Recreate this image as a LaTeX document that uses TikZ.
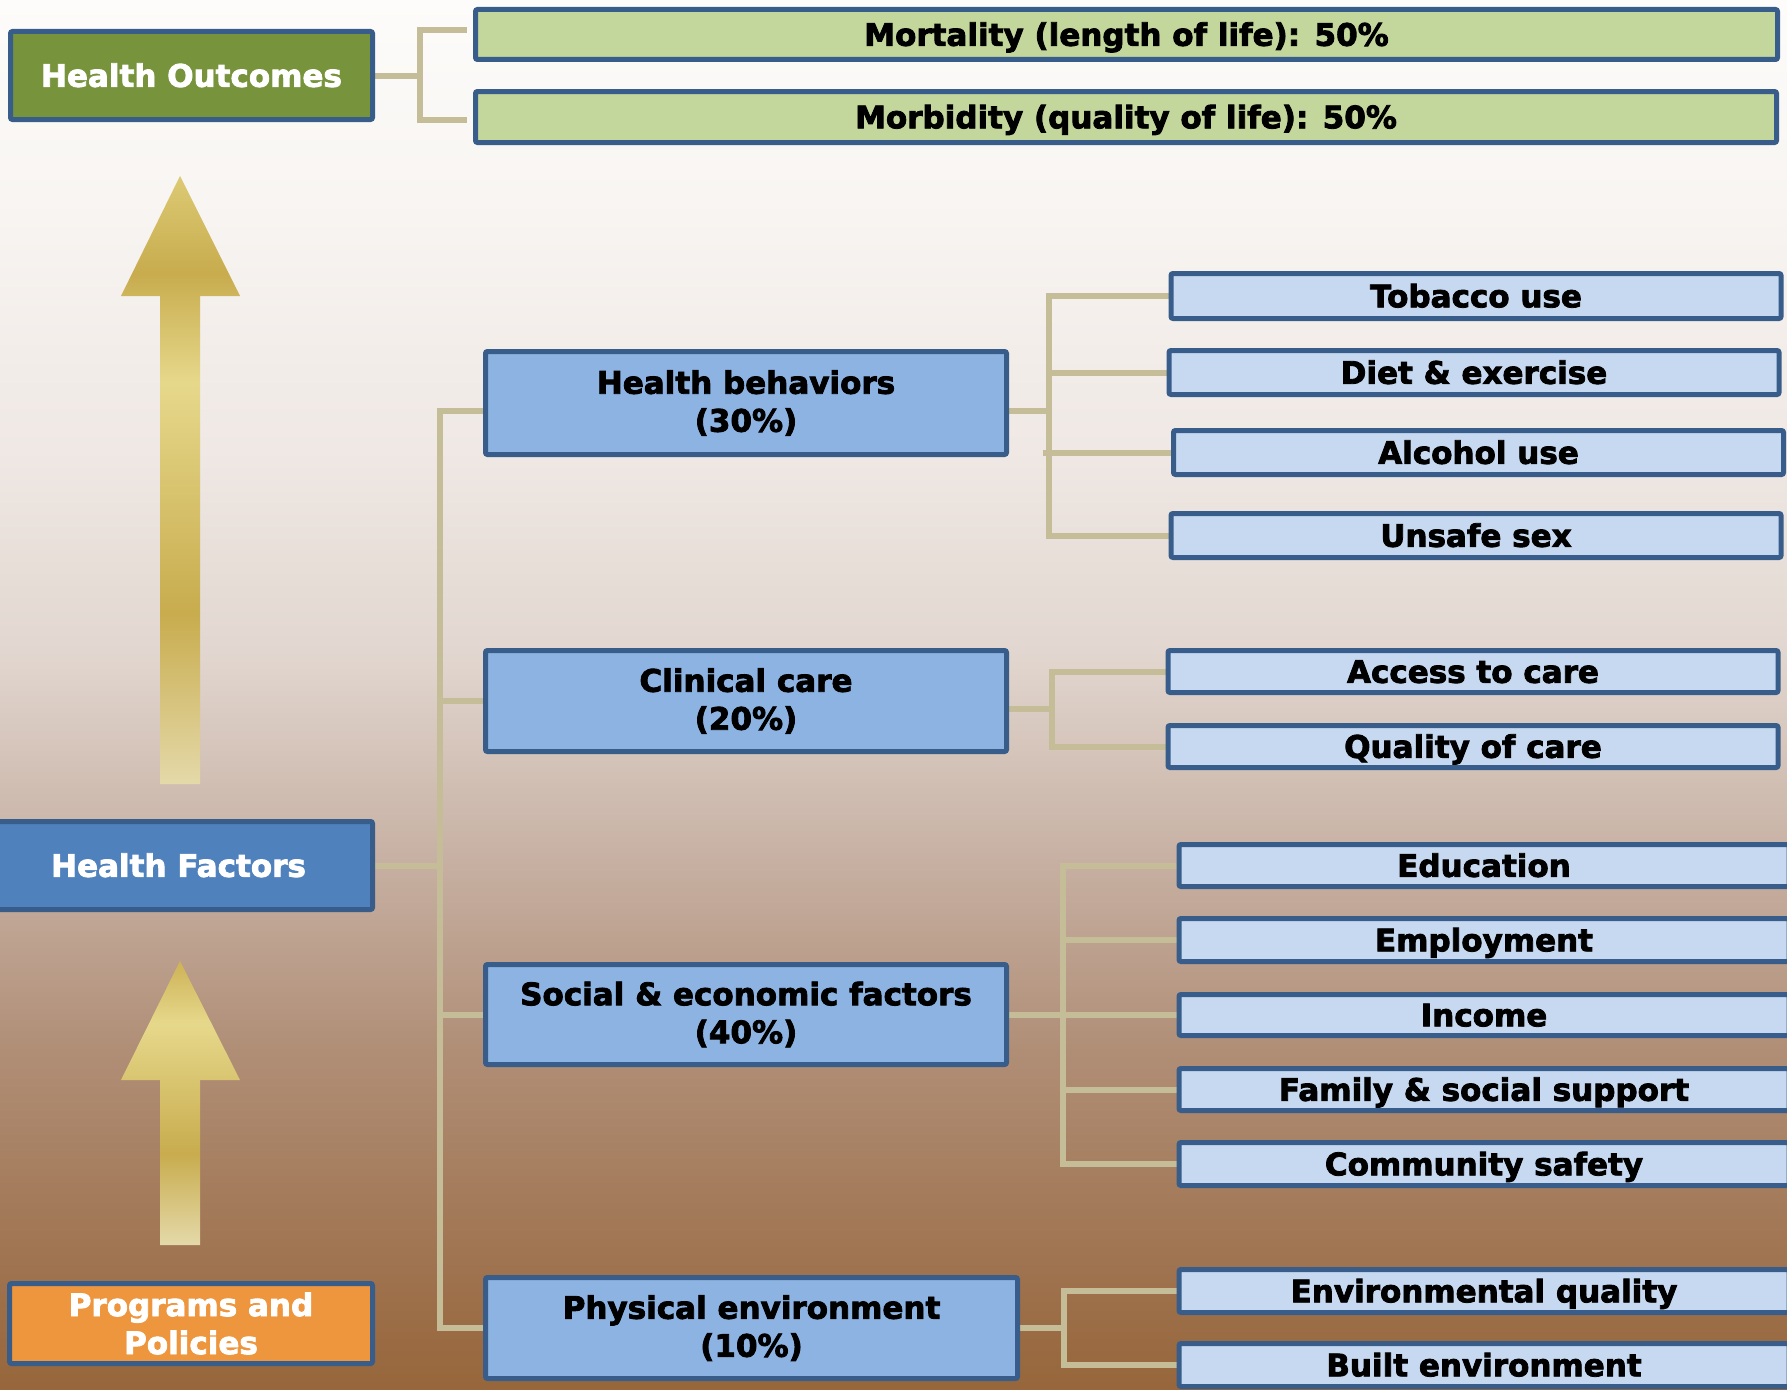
\documentclass[tikz,border=0pt]{standalone}
\usepackage{fontspec}
\setsansfont{DejaVu Sans}[BoldFeatures={FakeBold=2.6}]
\usetikzlibrary{calc}

\definecolor{bordc}{HTML}{385D8A}
\definecolor{connc}{HTML}{C4BD97}
\definecolor{hofill}{HTML}{77933C}
\definecolor{mofill}{HTML}{C3D69B}
\definecolor{hffill}{HTML}{4F81BD}
\definecolor{ppfill}{HTML}{ED963D}
\definecolor{midfill}{HTML}{8DB3E2}
\definecolor{rfill}{HTML}{C6D9F1}

\definecolor{bgA}{HTML}{FDFCFA}
\definecolor{bgB}{HTML}{F8F5F2}
\definecolor{bgC}{HTML}{EFE8E4}
\definecolor{bgD}{HTML}{E2D7D0}
\definecolor{bgE}{HTML}{C8B2A5}
\definecolor{bgF}{HTML}{B08E76}
\definecolor{bgG}{HTML}{A07552}
\definecolor{bgH}{HTML}{97663B}

\definecolor{gTip}{HTML}{DCCA74}
\definecolor{gDark}{HTML}{C8AC4E}
\definecolor{gLight}{HTML}{E6D88B}
\definecolor{gBot}{HTML}{E4D9A9}
\definecolor{gTipS}{HTML}{CDB257}

\pgfdeclareverticalshading{bgshade}{100bp}{color(0bp)=(bgH); color(25bp)=(bgH); color(30bp)=(bgG); color(37.2bp)=(bgF); color(44.4bp)=(bgE); color(51.6bp)=(bgD); color(58.8bp)=(bgC); color(67.8bp)=(bgB); color(75bp)=(bgA); color(100bp)=(bgA)}
\pgfdeclareverticalshading{bigarrow}{100bp}{color(0bp)=(gBot); color(25bp)=(gBot); color(39bp)=(gDark); color(58bp)=(gLight); color(67bp)=(gDark); color(75bp)=(gTip); color(100bp)=(gTip)}
\pgfdeclareverticalshading{smallarrow}{100bp}{color(0bp)=(gBot); color(25bp)=(gBot); color(41bp)=(gDark); color(64bp)=(gLight); color(75bp)=(gTipS); color(100bp)=(gTipS)}

\pgfdeclarelayer{back}
\pgfdeclarelayer{conns}
\pgfsetlayers{back,conns,main}

\tikzset{
  base/.style={draw=bordc, line width=5pt, rounded corners=2pt, inner sep=0pt, outer sep=0pt,
    font=\sffamily\bfseries\fontsize{31}{38}\selectfont, align=center},
  oneline/.style={text height=22.6pt, text depth=0pt},
  rbox/.style={base, oneline, fill=rfill, text=black, minimum width=610pt},
  mbox/.style={base, fill=midfill, text=black},
  conn/.style={draw=connc, line width=6pt}
}

\begin{document}
\begin{tikzpicture}[x=1pt, y=-1pt]
\useasboundingbox (0,0) rectangle (1787,1389);

\begin{pgfonlayer}{back}
  \shade[shading=bgshade] (0,0) rectangle (1787,1389);
  \shade[shading=bigarrow] (160,784) -- (160,296) -- (121,296) -- (180,176) -- (240,296) -- (200,296) -- (200,784) -- cycle;
  \shade[shading=smallarrow] (160,1245) -- (160,1080) -- (121,1080) -- (180,961) -- (240,1080) -- (200,1080) -- (200,1245) -- cycle;
\end{pgfonlayer}

% left column
\node[base, oneline, fill=hofill, text=white, minimum width=362pt, minimum height=88pt] (ho) at (191.5,75.5) {Health Outcomes};
\node[base, oneline, fill=hffill, text=white, minimum width=388pt, minimum height=88pt] (hf) at (178.5,865.5) {Health Factors};
\node[base, fill=ppfill, text=white, minimum width=363pt, minimum height=80pt] (pp) at (191,1323.5) {Programs and\\Policies};

% outcomes
\node[base, oneline, fill=mofill, text=black, minimum width=1302pt, minimum height=50pt] (mort) at (1126.5,34.5) {Mortality (length of life): 50\%};
\node[base, oneline, fill=mofill, text=black, minimum width=1301pt, minimum height=51pt] (morb) at (1126,117) {Morbidity (quality of life): 50\%};

% middle column
\node[mbox, minimum width=521pt, minimum height=103pt] (hb) at (746,403) {Health behaviors\\(30\%)};
\node[mbox, minimum width=521pt, minimum height=101pt] (cc) at (746,701) {Clinical care\\(20\%)};
\node[mbox, minimum width=521pt, minimum height=100pt] (se) at (746,1014.5) {Social \& economic factors\\(40\%)};
\node[mbox, minimum width=532pt, minimum height=101pt] (pe) at (751.5,1328) {Physical environment\\(10\%)};

% right column
\node[rbox, minimum height=45pt] (tob) at (1476,296) {Tobacco use};
\node[rbox, minimum height=44pt] (diet) at (1474,372.5) {Diet \& exercise};
\node[rbox, minimum height=44pt] (alc) at (1478.5,452.5) {Alcohol use};
\node[rbox, minimum height=44pt] (uns) at (1476,535.5) {Unsafe sex};

\node[rbox, minimum height=42pt] (acc) at (1473,671.5) {Access to care};
\node[rbox, minimum height=42pt] (qua) at (1473,746.5) {Quality of care};

\node[rbox, minimum height=42pt] (edu) at (1484,865.5) {Education};
\node[rbox, minimum height=43pt] (emp) at (1484,940) {Employment};
\node[rbox, minimum height=41pt] (inc) at (1484,1015) {Income};
\node[rbox, minimum height=42pt] (fam) at (1484,1089.5) {Family \& social support};
\node[rbox, minimum height=43pt] (com) at (1484,1164) {Community safety};

\node[rbox, minimum height=43pt] (env) at (1484,1291) {Environmental quality};
\node[rbox, minimum height=43pt] (blt) at (1484,1365) {Built environment};

% connectors
\begin{pgfonlayer}{conns}
  % outcomes bracket
  \coordinate (hoj) at (420,75.5);
  \draw[conn] (ho.east) -- (hoj);
  \draw[conn] ($(mort.west)+(-9,-4.5)$) -| (hoj) |- ($(morb.west)+(-9,3)$);

  % main trunk
  \coordinate (tk) at (440,411);
  \draw[conn] (hb.west |- tk) -- (tk) -- (tk |- pe.west) -- (pe.west);
  \draw[conn] (hf.east) -- (hf.east -| tk);
  \draw[conn] (cc.west) -- (cc.west -| tk);
  \draw[conn] (se.west) -- (se.west -| tk);

  % health behaviors
  \coordinate (bj1) at (1049,411);
  \draw[conn] (hb.east |- bj1) -- ([xshift=3pt]bj1);
  \draw[conn] (tob.west) -| (bj1) |- (uns.west);
  \draw[conn] (diet.west) -- (diet.west -| bj1);
  \draw[conn] (alc.west) -- ([xshift=-6pt]alc.west -| bj1);

  % clinical care
  \coordinate (bj2) at (1052,709);
  \draw[conn] (cc.east |- bj2) -- (bj2);
  \draw[conn] (acc.west) -| (bj2) |- (qua.west);

  % social & economic
  \coordinate (bj3) at (1063,1014.5);
  \draw[conn] (se.east) -- (bj3);
  \draw[conn] (edu.west) -| (bj3) |- (com.west);
  \draw[conn] (emp.west) -- (emp.west -| bj3);
  \draw[conn] (inc.west) -- (inc.west -| bj3);
  \draw[conn] (fam.west) -- (fam.west -| bj3);

  % physical environment
  \coordinate (bj4) at (1064,1328);
  \draw[conn] (pe.east) -- (bj4);
  \draw[conn] (env.west) -| (bj4) |- (blt.west);
\end{pgfonlayer}
\end{tikzpicture}
\end{document}
